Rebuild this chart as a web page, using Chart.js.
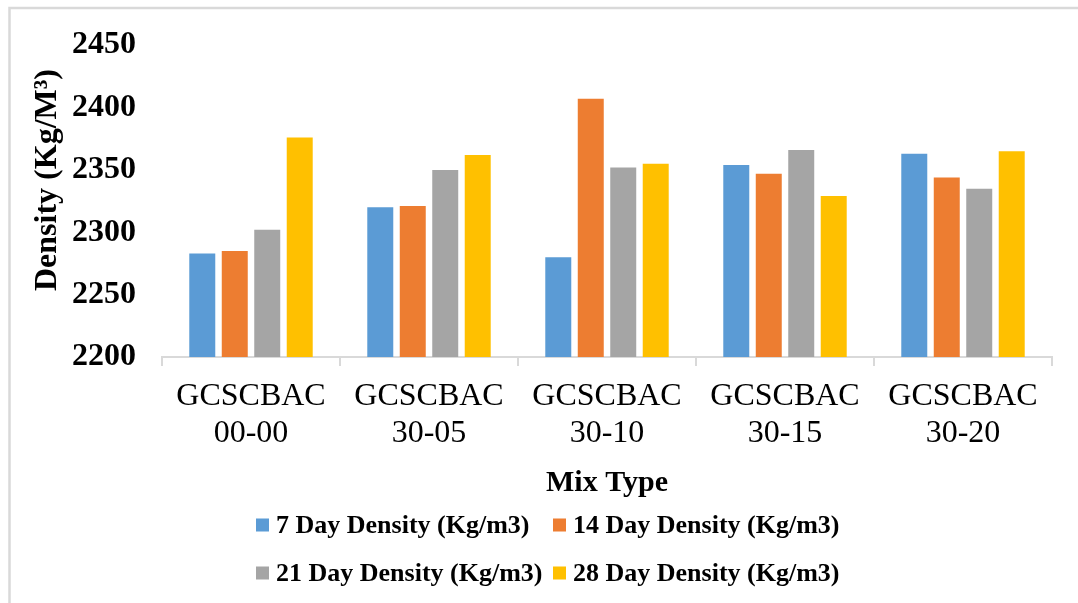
<!DOCTYPE html>
<html>
<head>
<meta charset="utf-8">
<title>Density by Mix Type</title>
<script src="https://cdn.jsdelivr.net/npm/chart.js@4/dist/chart.umd.min.js"></script>
<style>
  html, body { margin: 0; padding: 0; background: #ffffff; }
  #wrap { width: 1078px; height: 603px; position: relative; }
</style>
</head>
<body>
<div id="wrap"><canvas id="chart" width="1078" height="603"></canvas></div>
<script>
// Mix types on the x axis (two-line labels)
const categories = [
  ["GCSCBAC", "00-00"],
  ["GCSCBAC", "30-05"],
  ["GCSCBAC", "30-10"],
  ["GCSCBAC", "30-15"],
  ["GCSCBAC", "30-20"]
];

// Density readings, Kg/m3
const day7Density  = [2283, 2320, 2280, 2354, 2363];
const day14Density = [2285, 2321, 2407, 2347, 2344];
const day21Density = [2302, 2350, 2352, 2366, 2335];
const day28Density = [2376, 2362, 2355, 2329, 2365];

const seriesNames = [
  "7 Day Density (Kg/m3)",
  "14 Day Density (Kg/m3)",
  "21 Day Density (Kg/m3)",
  "28 Day Density (Kg/m3)"
];
const seriesColors = ["#5B9BD5", "#ED7D31", "#A5A5A5", "#FFC000"];

// Y axis range and tick spacing
const yMin = 2200;
const yMax = 2450;
const yStep = 50;

const SERIF = "'Liberation Serif', 'Times New Roman', serif";

// Light outer frame around the chart
const framePlugin = {
  id: "frame",
  beforeDraw(chart) {
    const ctx = chart.ctx;
    ctx.save();
    ctx.strokeStyle = "#d9d9d9";
    ctx.lineWidth = 2.5;
    ctx.strokeRect(9.5, 8, chart.width + 20, chart.height + 20);
    ctx.restore();
  }
};

// Y axis title and a two-row legend under the chart
const textPlugin = {
  id: "extraText",
  afterDraw(chart) {
    const ctx = chart.ctx;
    ctx.save();
    ctx.fillStyle = "#000";
    ctx.font = "bold 32px " + SERIF;
    ctx.textAlign = "center";
    ctx.textBaseline = "middle";
    ctx.translate(48, 180);
    ctx.rotate(-Math.PI / 2);
    ctx.fillText("Density (Kg/M\u00B3)", 0, 0);
    ctx.restore();

    const items = chart.data.datasets.map((ds, i) => ({
      text: ds.label,
      color: ds.backgroundColor,
      x: i % 2 === 0 ? 256 : 553,
      y: i < 2 ? 525 : 573
    }));
    ctx.save();
    ctx.font = "bold 26px " + SERIF;
    ctx.textAlign = "left";
    ctx.textBaseline = "middle";
    items.forEach(it => {
      ctx.fillStyle = it.color;
      ctx.fillRect(it.x, it.y - 6.5, 13, 13);
      ctx.fillStyle = "#000";
      ctx.fillText(it.text, it.x + 20, it.y + 1);
    });
    ctx.restore();
  }
};

const seriesValues = [day7Density, day14Density, day21Density, day28Density];

new Chart(document.getElementById("chart"), {
  type: "bar",
  data: {
    labels: categories,
    datasets: seriesValues.map((vals, i) => ({
      label: seriesNames[i],
      data: vals,
      backgroundColor: seriesColors[i],
      borderWidth: 0,
      categoryPercentage: 0.73,
      barPercentage: 0.8
    }))
  },
  options: {
    responsive: false,
    animation: false,
    devicePixelRatio: 1,
    layout: { padding: { top: 40, right: 26, bottom: 100, left: 0 } },
    plugins: {
      legend: { display: false },
      tooltip: { enabled: false },
      title: { display: false }
    },
    scales: {
      x: {
        afterFit(scale) { scale.height = 146; },
        grid: {
          display: true,
          drawOnChartArea: false,
          drawTicks: true,
          tickLength: 9,
          color: "#d9d9d9",
          lineWidth: 2
        },
        border: { display: true, color: "#d9d9d9", width: 2 },
        ticks: {
          color: "#000",
          font: { family: SERIF, size: 32, lineHeight: 1.16 },
          padding: 12,
          maxRotation: 0,
          autoSkip: false
        },
        title: {
          display: true,
          text: "Mix Type",
          color: "#000",
          font: { family: SERIF, size: 30, weight: "bold", lineHeight: 1.2 },
          padding: { top: 0, bottom: 2 }
        }
      },
      y: {
        min: yMin,
        max: yMax,
        afterFit(scale) { scale.width = 162; },
        grid: { display: false, drawTicks: false },
        border: { display: false },
        ticks: {
          stepSize: yStep,
          color: "#000",
          padding: 26,
          font: { family: SERIF, size: 32, weight: "bold" },
          callback: (value) => String(value)
        }
      }
    }
  },
  plugins: [framePlugin, textPlugin]
});
</script>
</body>
</html>
